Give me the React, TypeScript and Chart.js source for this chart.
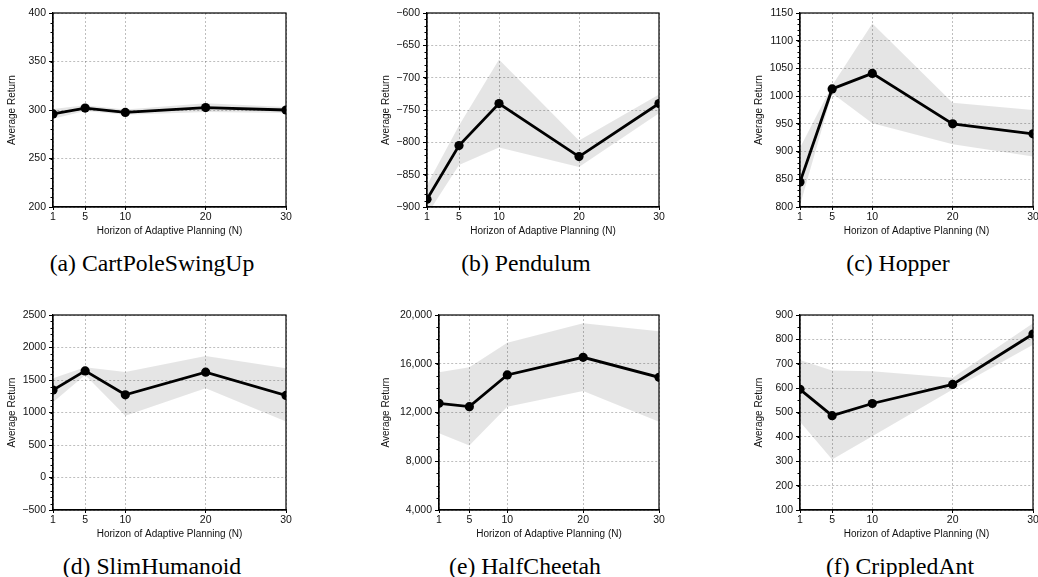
import React, { useEffect, useRef } from "react";
import { Chart, registerables } from "chart.js";

Chart.register(...registerables);

// ---------- data ----------
const horizons = [1, 5, 10, 20, 30];
const xTickValues = [1, 5, 10, 20, 30];

const cartMean = [296, 302, 297.5, 302.5, 300];
const cartUpper = [301, 305, 300.5, 307, 303];
const cartLower = [291, 299, 295, 298, 297];
const cartYTicks = [200, 250, 300, 350, 400];

const pendMean = [-888, -805, -740, -822, -740];
const pendUpper = [-866, -774, -672, -797, -726];
const pendLower = [-912, -835, -808, -838, -755];
const pendYTicks = [-900, -850, -800, -750, -700, -650, -600];

const hopMean = [845, 1013, 1041, 950, 932];
const hopUpper = [907, 1019, 1131, 988, 975];
const hopLower = [803, 1005, 951, 913, 891];
const hopYTicks = [800, 850, 900, 950, 1000, 1050, 1100, 1150];

const slimMean = [1345, 1640, 1272, 1620, 1262];
const slimUpper = [1527, 1696, 1625, 1870, 1681];
const slimLower = [1159, 1578, 949, 1374, 862];
const slimYTicks = [-500, 0, 500, 1000, 1500, 2000, 2500];

const cheetahMean = [12750, 12480, 15080, 16530, 14890];
const cheetahUpper = [15300, 15710, 17730, 19320, 18660];
const cheetahLower = [10290, 9300, 12480, 13760, 11250];
const cheetahYTicks = [4000, 8000, 12000, 16000, 20000];

const antMean = [595, 487, 537, 615, 822];
const antUpper = [715, 672, 669, 643, 866];
const antLower = [462, 307, 403, 594, 778];
const antYTicks = [100, 200, 300, 400, 500, 600, 700, 800, 900];

const captions = [
  "(a) CartPoleSwingUp",
  "(b) Pendulum",
  "(c) Hopper",
  "(d) SlimHumanoid",
  "(e) HalfCheetah",
  "(f) CrippledAnt",
];

const X_TITLE = "Horizon of Adaptive Planning (N)";
const Y_TITLE = "Average Return";

// ---------- layout ----------
type PanelCfg = {
  mean: number[];
  upper: number[];
  lower: number[];
  yTicks: number[];
  minor: number;
  comma?: boolean;
  plotLeft: number;
  plotRight: number;
  plotTop: number;
  plotBottom: number;
  yTitlePad: number;
  caption: string;
  capX: number;
  capY: number;
};

const YW = 60;
const XH = 32;
const PAD_TOP = 9;

const panels: PanelCfg[] = [
  { mean: cartMean, upper: cartUpper, lower: cartLower, yTicks: cartYTicks, minor: 10,
    plotLeft: 53, plotRight: 286, plotTop: 13, plotBottom: 207, yTitlePad: 13.5,
    caption: captions[0], capX: 152, capY: 263 },
  { mean: pendMean, upper: pendUpper, lower: pendLower, yTicks: pendYTicks, minor: 10,
    plotLeft: 427, plotRight: 659, plotTop: 13, plotBottom: 207, yTitlePad: 13.5,
    caption: captions[1], capX: 526, capY: 263 },
  { mean: hopMean, upper: hopUpper, lower: hopLower, yTicks: hopYTicks, minor: 10,
    plotLeft: 800, plotRight: 1033, plotTop: 13, plotBottom: 207, yTitlePad: 13.5,
    caption: captions[2], capX: 898, capY: 263 },
  { mean: slimMean, upper: slimUpper, lower: slimLower, yTicks: slimYTicks, minor: 100,
    plotLeft: 53, plotRight: 286, plotTop: 315, plotBottom: 510, yTitlePad: 13.5,
    caption: captions[3], capX: 152, capY: 566 },
  { mean: cheetahMean, upper: cheetahUpper, lower: cheetahLower, yTicks: cheetahYTicks, minor: 1000, comma: true,
    plotLeft: 439, plotRight: 659, plotTop: 315, plotBottom: 510, yTitlePad: 1.4,
    caption: captions[4], capX: 525, capY: 566 },
  { mean: antMean, upper: antUpper, lower: antLower, yTicks: antYTicks, minor: 50,
    plotLeft: 800, plotRight: 1033, plotTop: 315, plotBottom: 510, yTitlePad: 13.5,
    caption: captions[5], capX: 900, capY: 566 },
];

const SANS = "'Liberation Sans', Arial, Helvetica, sans-serif";
const SERIF = "'Liberation Serif', 'Times New Roman', serif";

const framePlugin = {
  id: "frame",
  afterDraw(chart: any, _args: any, opts: any) {
    const { ctx, chartArea: a, scales } = chart;
    const y = scales.y;
    ctx.save();
    ctx.strokeStyle = "#000";
    ctx.lineWidth = 1;
    const step = opts.minor;
    for (let v = y.min; v <= y.max + 1e-9; v += step) {
      const p = Math.round(y.getPixelForValue(v)) + 0.5;
      ctx.beginPath();
      ctx.moveTo(a.left - 2.5, p);
      ctx.lineTo(a.left, p);
      ctx.stroke();
    }
    ctx.lineWidth = 1.2;
    ctx.strokeRect(a.left, a.top, a.right - a.left, a.bottom - a.top);
    ctx.restore();
  },
};

function fmt(v: number, comma?: boolean) {
  const s = comma ? v.toLocaleString("en-US") : String(v);
  return s.replace("-", "\u2212");
}

function Panel({ cfg }: { cfg: PanelCfg }) {
  const ref = useRef<HTMLCanvasElement | null>(null);
  const left = cfg.plotLeft - YW;
  const top = cfg.plotTop - PAD_TOP;
  const right = Math.min(cfg.plotRight + 12, 1038);
  const width = right - left;
  const height = cfg.plotBottom + XH - top;
  const padRight = right - cfg.plotRight;

  useEffect(() => {
    if (!ref.current) return;
    const pts = (arr: number[]) => horizons.map((x, i) => ({ x, y: arr[i] }));
    const chart = new Chart(ref.current, {
      type: "line",
      data: {
        datasets: [
          {
            data: pts(cfg.mean),
            borderColor: "#000",
            backgroundColor: "#000",
            borderWidth: 2.8,
            pointRadius: 4.6,
            pointBackgroundColor: "#000",
            pointBorderColor: "#000",
            pointBorderWidth: 0,
            fill: false,
            tension: 0,
          },
          {
            data: pts(cfg.upper),
            borderWidth: 0,
            borderColor: "rgba(0,0,0,0)",
            pointRadius: 0,
            fill: "+1",
            backgroundColor: "rgba(0,0,0,0.1)",
            tension: 0,
          },
          {
            data: pts(cfg.lower),
            borderWidth: 0,
            borderColor: "rgba(0,0,0,0)",
            pointRadius: 0,
            fill: false,
            tension: 0,
          },
        ],
      },
      options: {
        animation: false,
        responsive: false,
        maintainAspectRatio: false,
        events: [],
        layout: { padding: { top: PAD_TOP, right: padRight, left: 0, bottom: 0 } },
        plugins: {
          legend: { display: false },
          tooltip: { enabled: false },
          frame: { minor: cfg.minor },
        } as any,
        scales: {
          x: {
            type: "linear",
            min: 1,
            max: 30,
            afterBuildTicks: (s: any) => {
              s.ticks = xTickValues.map((v) => ({ value: v }));
            },
            afterFit: (s: any) => {
              s.height = XH;
              s.paddingLeft = 0;
              s.paddingRight = 0;
            },
            ticks: {
              autoSkip: false,
              maxRotation: 0,
              padding: 1,
              color: "#111",
              font: { family: SANS, size: 10.5 },
              callback: (v: any) => String(v),
            },
            grid: {
              color: "rgba(0,0,0,0.32)",
              lineWidth: 0.8,
              tickLength: 3,
              tickColor: "#000",
              tickWidth: 1,
            },
            border: { color: "#000", width: 1.2, dash: [2, 2] },
            title: {
              display: true,
              text: X_TITLE,
              color: "#111",
              font: { family: SANS, size: 10 },
              padding: { top: 0, bottom: 2 },
            },
          },
          y: {
            type: "linear",
            min: cfg.yTicks[0],
            max: cfg.yTicks[cfg.yTicks.length - 1],
            afterBuildTicks: (s: any) => {
              s.ticks = cfg.yTicks.map((v) => ({ value: v }));
            },
            afterFit: (s: any) => {
              s.width = YW;
              s.paddingTop = 0;
              s.paddingBottom = 0;
            },
            ticks: {
              autoSkip: false,
              padding: 3,
              color: "#111",
              font: { family: SANS, size: 10.5 },
              callback: (v: any) => fmt(Number(v), cfg.comma),
            },
            grid: {
              color: "rgba(0,0,0,0.32)",
              lineWidth: 0.8,
              tickLength: 4,
              tickColor: "#000",
              tickWidth: 1,
            },
            border: { color: "#000", width: 1.2, dash: [2, 2] },
            title: {
              display: true,
              text: Y_TITLE,
              color: "#111",
              font: { family: SANS, size: 10 },
              padding: { top: cfg.yTitlePad, bottom: 0 },
            },
          },
        },
      } as any,
      plugins: [framePlugin as any],
    });
    return () => chart.destroy();
  }, []);

  return (
    <>
      <canvas
        ref={ref}
        width={width}
        height={height}
        style={{ position: "absolute", left, top, width, height }}
      />
      <div
        style={{
          position: "absolute",
          left: cfg.capX - 150,
          top: cfg.capY - 14,
          width: 300,
          height: 28,
          lineHeight: "28px",
          textAlign: "center",
          fontFamily: SERIF,
          fontSize: 23.7,
          color: "#000",
          whiteSpace: "nowrap",
        }}
      >
        {cfg.caption}
      </div>
    </>
  );
}

export default function App() {
  return (
    <div
      style={{
        position: "absolute",
        left: 0,
        top: 0,
        width: 1038,
        height: 577,
        background: "#fff",
        overflow: "hidden",
      }}
    >
      {panels.map((p, i) => (
        <Panel key={i} cfg={p} />
      ))}
    </div>
  );
}
